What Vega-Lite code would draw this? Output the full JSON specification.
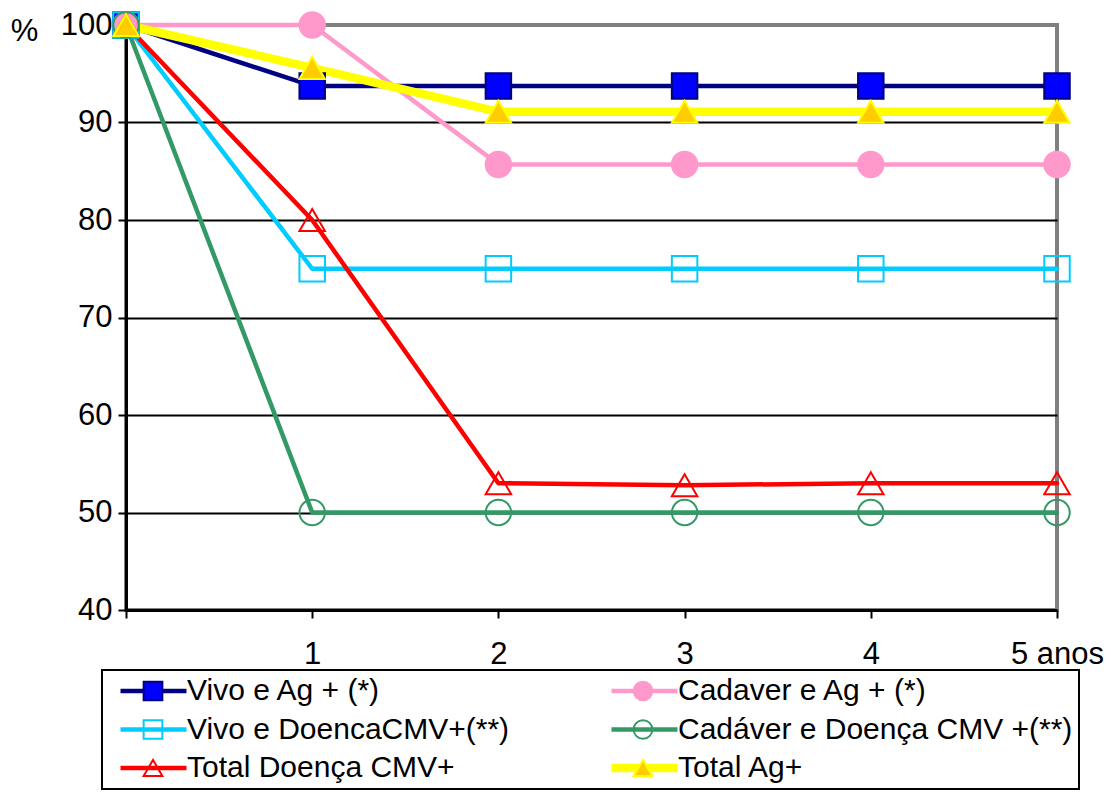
{
  "$schema": "https://vega.github.io/schema/vega-lite/v6.json",
  "width": 931,
  "height": 585,
  "autosize": {"type": "none"},
  "padding": {"left": 126, "top": 25, "right": 54, "bottom": 182},
  "background": "white",
  "config": {
    "view": {"stroke": "#808080", "strokeWidth": 4},
    "font": "Liberation Sans",
    "legend": {"strokeWidth": 2}
  },
  "data": {
    "values": [
      {"series": "Vivo e Ag + (*)", "year": 0, "value": 100},
      {"series": "Vivo e Ag + (*)", "year": 1, "value": 93.75},
      {"series": "Vivo e Ag + (*)", "year": 2, "value": 93.75},
      {"series": "Vivo e Ag + (*)", "year": 3, "value": 93.75},
      {"series": "Vivo e Ag + (*)", "year": 4, "value": 93.75},
      {"series": "Vivo e Ag + (*)", "year": 5, "value": 93.75},
      {"series": "Cadaver e Ag + (*)", "year": 0, "value": 100},
      {"series": "Cadaver e Ag + (*)", "year": 1, "value": 100},
      {"series": "Cadaver e Ag + (*)", "year": 2, "value": 85.7},
      {"series": "Cadaver e Ag + (*)", "year": 3, "value": 85.7},
      {"series": "Cadaver e Ag + (*)", "year": 4, "value": 85.7},
      {"series": "Cadaver e Ag + (*)", "year": 5, "value": 85.7},
      {"series": "Vivo e DoencaCMV+(**)", "year": 0, "value": 100},
      {"series": "Vivo e DoencaCMV+(**)", "year": 1, "value": 75},
      {"series": "Vivo e DoencaCMV+(**)", "year": 2, "value": 75},
      {"series": "Vivo e DoencaCMV+(**)", "year": 3, "value": 75},
      {"series": "Vivo e DoencaCMV+(**)", "year": 4, "value": 75},
      {"series": "Vivo e DoencaCMV+(**)", "year": 5, "value": 75},
      {"series": "Cadáver e Doença CMV +(**)", "year": 0, "value": 100},
      {"series": "Cadáver e Doença CMV +(**)", "year": 1, "value": 50},
      {"series": "Cadáver e Doença CMV +(**)", "year": 2, "value": 50},
      {"series": "Cadáver e Doença CMV +(**)", "year": 3, "value": 50},
      {"series": "Cadáver e Doença CMV +(**)", "year": 4, "value": 50},
      {"series": "Cadáver e Doença CMV +(**)", "year": 5, "value": 50},
      {"series": "Total Doença CMV+", "year": 0, "value": 100},
      {"series": "Total Doença CMV+", "year": 1, "value": 80},
      {"series": "Total Doença CMV+", "year": 2, "value": 53},
      {"series": "Total Doença CMV+", "year": 3, "value": 52.8},
      {"series": "Total Doença CMV+", "year": 4, "value": 53},
      {"series": "Total Doença CMV+", "year": 5, "value": 53},
      {"series": "Total Ag+", "year": 0, "value": 100},
      {"series": "Total Ag+", "year": 1, "value": 95.6},
      {"series": "Total Ag+", "year": 2, "value": 91.1},
      {"series": "Total Ag+", "year": 3, "value": 91.1},
      {"series": "Total Ag+", "year": 4, "value": 91.1},
      {"series": "Total Ag+", "year": 5, "value": 91.1}
    ]
  },
  "encoding": {
    "x": {
      "field": "year", "type": "quantitative",
      "scale": {"domain": [0, 5], "nice": false, "zero": false},
      "axis": {
        "values": [0, 1, 2, 3, 4, 5],
        "labelExpr": "datum.value == 0 ? '' : (datum.value == 5 ? '5  anos' : datum.label)",
        "title": null, "grid": false, "labelFlush": false, "labelOverlap": false,
        "labelFont": "Liberation Sans", "labelFontSize": 31, "labelColor": "black",
        "domainColor": "black", "domainWidth": 3, "tickColor": "black", "tickWidth": 2,
        "tickSize": 8, "labelPadding": 21
      }
    },
    "y": {
      "field": "value", "type": "quantitative",
      "scale": {"domain": [40, 100], "nice": false, "zero": false},
      "axis": {
        "values": [40, 50, 60, 70, 80, 90, 100],
        "labelFlush": false,
        "labelFont": "Liberation Sans", "labelFontSize": 31, "labelColor": "black",
        "domainColor": "black", "domainWidth": 3, "tickColor": "black", "tickWidth": 2,
        "tickSize": 8, "labelPadding": 6,
        "grid": true, "gridWidth": 2,
        "gridColor": {"condition": {"test": "datum.value == 100 || datum.value == 40", "value": "transparent"}, "value": "black"},
        "title": "%", "titleAngle": 0, "titleX": -102, "titleY": 6, "titleFont": "Liberation Sans",
        "titleFontSize": 31, "titleFontWeight": "normal", "titleColor": "black",
        "titleAlign": "center", "titleBaseline": "middle"
      }
    }
  },
  "layer": [
    {
      "data": {"values": [{}]},
      "mark": {
        "type": "rect",
        "fill": {
          "gradient": "linear", "x1": 0, "y1": 0, "x2": 0, "y2": 1,
          "stops": [
            {"offset": 0, "color": "#c0c0c0"},
            {"offset": 0.3, "color": "#cacaca"},
            {"offset": 0.55, "color": "#dedede"},
            {"offset": 0.7, "color": "#eeeeee"},
            {"offset": 1, "color": "#ffffff"}
          ]
        }
      },
      "encoding": {
        "x": {"datum": 0, "type": "quantitative"},
        "x2": {"datum": 5},
        "y": {"datum": 40, "type": "quantitative"},
        "y2": {"datum": 100}
      }
    },
    {
      "mark": {"type": "line", "strokeCap": "round", "strokeJoin": "round"},
      "encoding": {
        "color": {
          "field": "series", "type": "nominal", "sort": null,
          "scale": {"range": ["#000080", "#ff99cc", "#00ccff", "#339966", "#ff0000", "#ffff00"]},
          "legend": {
            "title": null, "orient": "none", "legendX": -24, "legendY": 645,
            "columns": 2, "direction": "horizontal", "symbolType": "stroke", "symbolSize": 4356,
            "symbolOffset": 8, "labelOffset": -4, "clipHeight": 30, "rowPadding": 8.5,
            "columnPadding": 89, "padding": 6, "strokeColor": "black",
            "labelFont": "Liberation Sans", "labelFontSize": 30, "labelColor": "black",
            "labelLimit": 0
          }
        },
        "strokeWidth": {
          "field": "series", "type": "nominal", "sort": null,
          "scale": {"type": "ordinal", "range": [4.5, 4.5, 4.5, 4.5, 4.5, 8.5]},
          "legend": {
            "title": null, "orient": "none", "legendX": -24, "legendY": 645,
            "columns": 2, "direction": "horizontal", "symbolType": "stroke", "symbolSize": 4356,
            "symbolOffset": 8, "labelOffset": -4, "clipHeight": 30, "rowPadding": 8.5,
            "columnPadding": 89, "padding": 6, "strokeColor": "black",
            "labelFont": "Liberation Sans", "labelFontSize": 30, "labelColor": "black",
            "labelLimit": 0
          }
        }
      }
    },
    {
      "mark": {"type": "point", "filled": false, "size": 650, "strokeWidth": 2, "opacity": 1},
      "encoding": {
        "shape": {
          "field": "series", "type": "nominal",
          "scale": {
            "domain": ["Vivo e Ag + (*)", "Cadaver e Ag + (*)", "Vivo e DoencaCMV+(**)", "Cadáver e Doença CMV +(**)", "Total Doença CMV+", "Total Ag+"],
            "range": ["square", "circle", "square", "circle", "triangle-up", "triangle-up"]
          },
          "legend": {
            "title": null, "orient": "none", "legendX": -24, "legendY": 645,
            "columns": 2, "direction": "horizontal", "symbolSize": 350, "symbolStrokeWidth": 2,
            "symbolOffset": 30, "labelOffset": 18, "clipHeight": 30, "rowPadding": 8.5,
            "columnPadding": 89, "padding": 6, "labelOpacity": 0,
            "labelFont": "Liberation Sans", "labelFontSize": 30, "labelColor": "black",
            "labelLimit": 0
          }
        },
        "fill": {
          "field": "series", "type": "nominal",
          "scale": {
            "domain": ["Vivo e Ag + (*)", "Cadaver e Ag + (*)", "Vivo e DoencaCMV+(**)", "Cadáver e Doença CMV +(**)", "Total Doença CMV+", "Total Ag+"],
            "range": ["#0000ff", "#ff99cc", "transparent", "transparent", "transparent", "#ffcc00"]
          },
          "legend": {
            "title": null, "orient": "none", "legendX": -24, "legendY": 645,
            "columns": 2, "direction": "horizontal", "symbolSize": 350, "symbolStrokeWidth": 2,
            "symbolOffset": 30, "labelOffset": 18, "clipHeight": 30, "rowPadding": 8.5,
            "columnPadding": 89, "padding": 6, "labelOpacity": 0,
            "labelFont": "Liberation Sans", "labelFontSize": 30, "labelColor": "black",
            "labelLimit": 0
          }
        },
        "stroke": {
          "field": "series", "type": "nominal",
          "scale": {
            "domain": ["Vivo e Ag + (*)", "Cadaver e Ag + (*)", "Vivo e DoencaCMV+(**)", "Cadáver e Doença CMV +(**)", "Total Doença CMV+", "Total Ag+"],
            "range": ["#000080", "#ff99cc", "#00ccff", "#339966", "#ff0000", "#ffff00"]
          },
          "legend": {
            "title": null, "orient": "none", "legendX": -24, "legendY": 645,
            "columns": 2, "direction": "horizontal", "symbolSize": 350, "symbolStrokeWidth": 2,
            "symbolOffset": 30, "labelOffset": 18, "clipHeight": 30, "rowPadding": 8.5,
            "columnPadding": 89, "padding": 6, "labelOpacity": 0,
            "labelFont": "Liberation Sans", "labelFontSize": 30, "labelColor": "black",
            "labelLimit": 0
          }
        }
      }
    }
  ]
}
